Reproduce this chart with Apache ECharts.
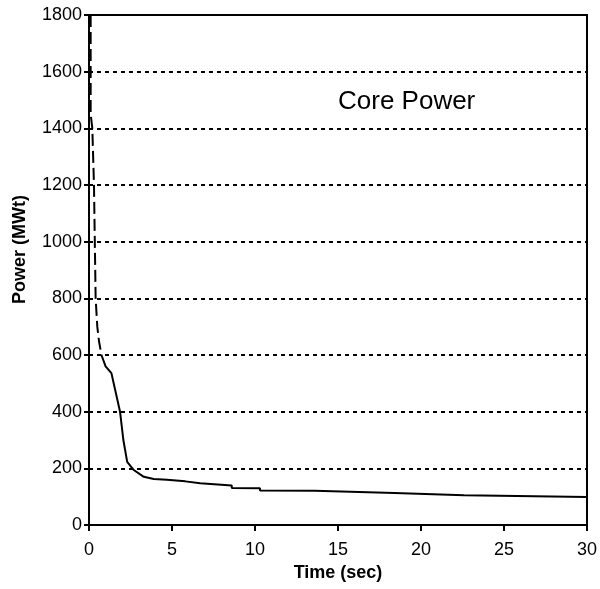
<!DOCTYPE html>
<html lang="en">
<head>
    <meta charset="UTF-8">
    <title>Core Power</title>
    <script src="https://cdn.jsdelivr.net/npm/echarts@6/dist/echarts.min.js"></script>
    <style>
        html, body { margin: 0; padding: 0; background: #fff; }
        #chart { width: 600px; height: 589px; }
    </style>
</head>
<body>
<div id="chart"></div>
<script type="text/javascript">
// steep early drop (drawn dashed in the original scan)
var dropTime  = [0.1, 0.1, 0.2, 0.3, 0.35, 0.4, 0.5, 0.6, 0.75];
var dropPower = [1800, 1450, 1400, 1200, 1000, 800, 700, 650, 600];

// rest of the transient, small steps towards decay heat level
var tailTime  = [0.75, 1.0, 1.35, 1.87, 2.07, 2.3, 2.7, 3.3, 3.9, 4.7, 4.7, 5.8, 5.8, 6.7, 6.7, 8.6, 8.6, 10.3, 10.3, 13.6, 13.6, 18.4, 18.4, 22.6, 22.6, 30];
var tailPower = [600, 560, 536, 400, 300, 223, 194, 170, 162, 160, 155, 154, 148, 147, 140, 139, 131, 130, 122, 121, 114, 113, 106, 105, 99, 99];

var xTicks = [0, 5, 10, 15, 20, 25, 30];
var yTicks = [0, 200, 400, 600, 800, 1000, 1200, 1400, 1600, 1800];

function pairs(xs, ys) {
    var out = [];
    for (var i = 0; i < xs.length; i++) {
        out.push([xs[i], ys[i]]);
    }
    return out;
}

var chart = echarts.init(document.getElementById('chart'));
var labelFont = '"Liberation Sans", Arial, sans-serif';

chart.setOption({
    animation: false,
    backgroundColor: '#fff',
    title: {
        text: 'Core Power',
        left: 333,
        top: 84,
        textStyle: { fontFamily: labelFont, fontSize: 26, fontWeight: 'normal', color: '#000' }
    },
    // y axis title sits a bit above the plot middle in the original
    graphic: [{
        type: 'text',
        left: 11,
        top: 195,
        rotation: Math.PI / 2,
        style: {
            text: 'Power (MWt)',
            font: 'bold 18px "Liberation Sans", Arial, sans-serif',
            fill: '#000'
        }
    }],
    grid: {
        left: 89, right: 13, top: 15, bottom: 64,
        outerBoundsMode: 'none',
        containLabel: false,
        show: true, borderColor: '#000', borderWidth: 2
    },
    xAxis: {
        type: 'value',
        min: xTicks[0], max: xTicks[xTicks.length - 1], interval: xTicks[1] - xTicks[0],
        name: 'Time (sec)',
        nameLocation: 'middle',
        nameGap: 38,
        nameTextStyle: { fontFamily: labelFont, fontSize: 18, fontWeight: 'bold', color: '#000' },
        axisLine: { lineStyle: { color: '#000', width: 2 } },
        axisTick: { length: 6, lineStyle: { color: '#000', width: 2 } },
        axisLabel: { fontFamily: labelFont, fontSize: 18, color: '#000', margin: 16 },
        splitLine: { show: false }
    },
    yAxis: {
        type: 'value',
        min: yTicks[0], max: yTicks[yTicks.length - 1], interval: yTicks[1] - yTicks[0],
        axisLine: { show: true, lineStyle: { color: '#000', width: 2 } },
        axisTick: { show: true, length: 5, lineStyle: { color: '#000', width: 2 } },
        axisLabel: {
            fontFamily: labelFont, fontSize: 18, color: '#000', margin: 7,
            formatter: function (v) { return String(v); }
        },
        splitLine: { show: true, lineStyle: { color: '#000', width: 2, type: [4, 4] } }
    },
    series: [
        {
            type: 'line',
            data: pairs(dropTime, dropPower),
            showSymbol: false,
            lineStyle: { color: '#000', width: 2, type: [12, 5] }
        },
        {
            type: 'line',
            data: pairs(tailTime, tailPower),
            showSymbol: false,
            lineStyle: { color: '#000', width: 2 }
        }
    ]
});
</script>
</body>
</html>
